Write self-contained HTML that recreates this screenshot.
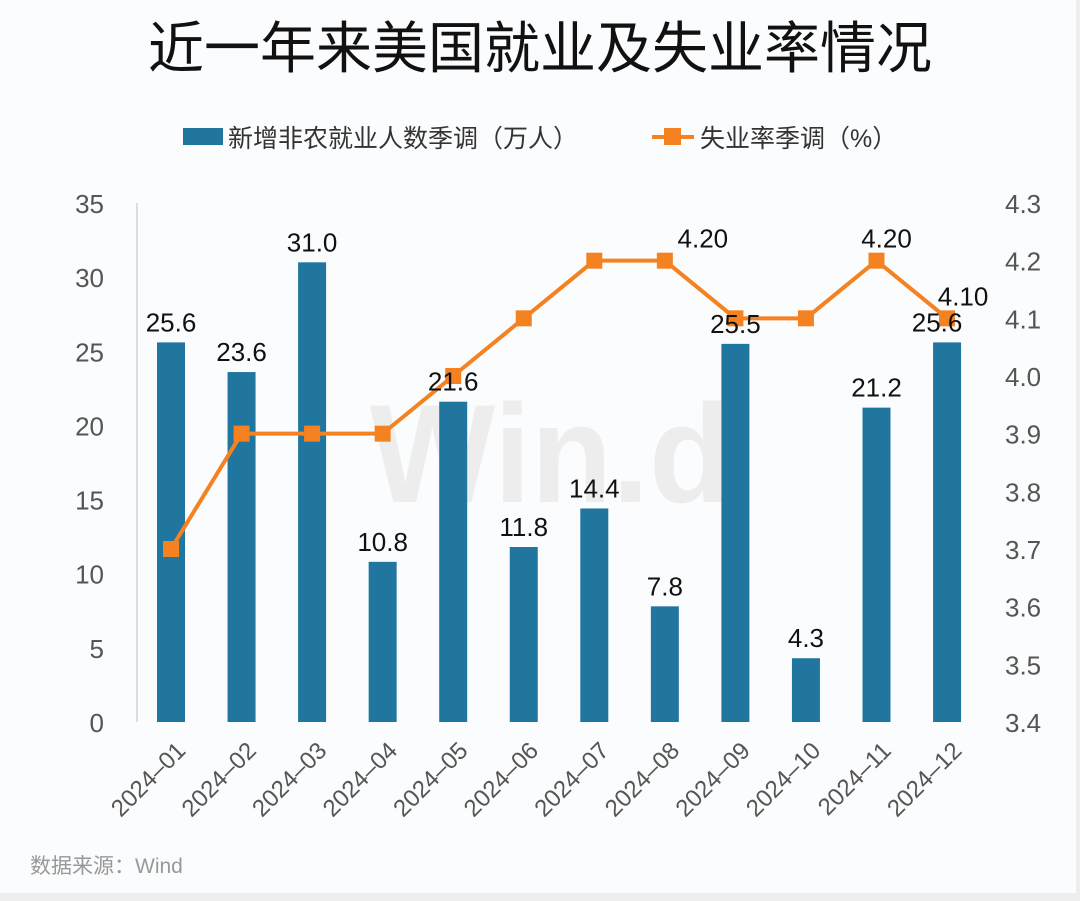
<!DOCTYPE html>
<html><head><meta charset="utf-8"><style>
html,body{margin:0;padding:0;background:#fff}
svg{display:block}
text{font-family:"Liberation Sans","Noto Sans CJK SC",sans-serif}
</style></head><body>
<svg id="chart" width="1080" height="901" xmlns="http://www.w3.org/2000/svg">
<rect x="0" y="0" width="1080" height="901" fill="#eeeeee"/>
<rect x="0" y="0" width="1076" height="893" fill="#fbfcfd"/>
<text x="540" y="68" text-anchor="middle" font-size="56" fill="#111">近一年来美国就业及失业率情况</text>
<g>
<rect x="183" y="128" width="40" height="17" fill="#21769f"/>
<text x="228" y="147" font-size="25" fill="#333">新增非农就业人数季调（万人）</text>
<line x1="652" y1="137" x2="694" y2="137" stroke="#f58220" stroke-width="4"/>
<rect x="664" y="128" width="17" height="17" fill="#f58220"/>
<text x="700" y="147" font-size="25" fill="#333">失业率季调（%）</text>
</g>
<text x="550" y="502" text-anchor="middle" font-size="140" font-weight="bold" fill="#e0e0e0" opacity="0.5" transform="translate(550,0) scale(0.95,1) translate(-550,0)">Win.d</text>
<line x1="137" y1="203" x2="137" y2="722" stroke="#ddd" stroke-width="2"/>
<g id="plot"></g>
<text x="30" y="873" font-size="21" fill="#999">数据来源：Wind</text>
</svg>
<script>
const categories=["2024-01","2024-02","2024-03","2024-04","2024-05","2024-06","2024-07","2024-08","2024-09","2024-10","2024-11","2024-12"];
const payrolls=[25.6,23.6,31.0,10.8,21.6,11.8,14.4,7.8,25.5,4.3,21.2,25.6];
const unemployment=[3.7,3.9,3.9,3.9,4.0,4.1,4.2,4.2,4.1,4.1,4.2,4.1];
const leftTicks=[0,5,10,15,20,25,30,35];
const rightTicks=[3.4,3.5,3.6,3.7,3.8,3.9,4.0,4.1,4.2,4.3];
const lineLabelIdx=[7,10,11];
const NS="http://www.w3.org/2000/svg";
const g=document.getElementById('plot');
const y0=722,y1=203;
const yL=v=>y0-(v/35)*(y0-y1);
const yR=v=>y0-((v-3.4)/0.9)*(y0-y1);
const x=i=>171+i*70.55;
function mk(t,a,txt){const e=document.createElementNS(NS,t);for(const k in a)e.setAttribute(k,a[k]);if(txt!==undefined)e.textContent=txt;g.appendChild(e);return e;}
leftTicks.forEach(v=>{const e=mk('text',{x:104,y:yL(v)+10,'text-anchor':'end','font-size':26,fill:'#555'},String(v));

});
rightTicks.forEach(v=>{const e=mk('text',{x:1005,y:yR(v)+10,'font-size':26,fill:'#555'},v.toFixed(1));

});
categories.forEach((c,i)=>{const e=mk('text',{x:0,y:0,'text-anchor':'end','font-size':24,fill:'#555',transform:`translate(${x(i)+16},${y0+30}) rotate(-45)`},c.replace('-','–'));

});
payrolls.forEach((v,i)=>{const b=mk('rect',{x:x(i)-14,y:yL(v),width:28,height:y0-yL(v),fill:'#21769f'});

});
const pl=mk('polyline',{points:unemployment.map((v,i)=>x(i)+','+yR(v)).join(' '),fill:'none',stroke:'#f58220','stroke-width':4});


unemployment.forEach((v,i)=>{const m=mk('rect',{x:x(i)-8,y:yR(v)-8,width:16,height:16,fill:'#f58220'});

});
payrolls.forEach((v,i)=>{const dx=i===11?-10:0;const t=mk('text',{x:x(i)+dx,y:yL(v)-11,'text-anchor':'middle','font-size':26,fill:'#111'},v.toFixed(1));

});
lineLabelIdx.forEach(i=>{const dx=i===7?38:(i===11?16:10);const t=mk('text',{x:x(i)+dx,y:yR(unemployment[i])-13,'text-anchor':'middle','font-size':26,fill:'#111'},unemployment[i].toFixed(2));

});
</script>
</body></html>
